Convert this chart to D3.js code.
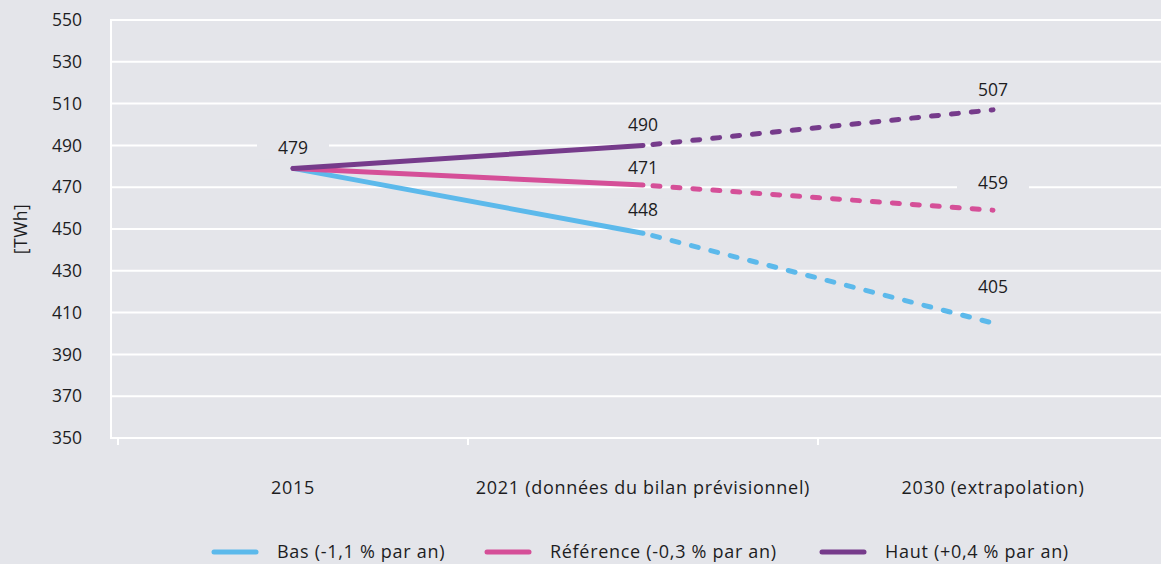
<!DOCTYPE html>
<html>
<head>
<meta charset="utf-8">
<script src="https://cdn.jsdelivr.net/npm/d3@7"></script>
<style>
  html, body { margin: 0; padding: 0; background: #e4e5ea; }
  svg { display: block; font-family: "Open Sans", Roboto, sans-serif; }
</style>
</head>
<body>
<div id="chart"></div>
<script>
// Data
const categories = ['2015', '2021 (données du bilan prévisionnel)', '2030 (extrapolation)'];
const seriesNames = ['Bas (-1,1 % par an)', 'Référence (-0,3 % par an)', 'Haut (+0,4 % par an)'];
const basValues = [479, 448, 405];
const referenceValues = [479, 471, 459];
const hautValues = [479, 490, 507];
const yTicks = [350, 370, 390, 410, 430, 450, 470, 490, 510, 530, 550];
const yTitle = '[TWh]';

const colors = ['#5cb9eb', '#d54f98', '#763b8b'];
const allSeries = [basValues, referenceValues, hautValues];
// vertical lift of each value label above its point, per series, per category
const labelLift = [[0, 23, 36], [0, 17, 27], [21, 21, 20]];

const width = 1161, height = 564;
const margin = { top: 20, right: 0, bottom: 126, left: 111 };
const bg = '#e4e5ea';
const fontSize = 17.5;
const textColor = '#1d1d1f';

const svg = d3.select('#chart').append('svg')
  .attr('width', width).attr('height', height);

svg.append('rect').attr('width', width).attr('height', height).attr('fill', bg);

const y = d3.scaleLinear().domain([350, 550]).range([height - margin.bottom, margin.top]);
const x = d3.scaleBand().domain(categories).range([118, 1168]);
const cx = c => x(c) + x.bandwidth() / 2;

// Grid lines
svg.append('g').selectAll('line').data(yTicks).join('line')
  .attr('x1', margin.left).attr('x2', width)
  .attr('y1', d => y(d)).attr('y2', d => y(d))
  .attr('stroke', '#fff').attr('stroke-width', 2);

// Y axis line
svg.append('line')
  .attr('x1', margin.left).attr('x2', margin.left)
  .attr('y1', y(550) - 1).attr('y2', y(350) + 1)
  .attr('stroke', '#fff').attr('stroke-width', 2);

// X ticks
const xTickPos = categories.map(c => x(c));
svg.append('g').selectAll('line').data(xTickPos).join('line')
  .attr('x1', d => d).attr('x2', d => d)
  .attr('y1', y(350)).attr('y2', y(350) + 7)
  .attr('stroke', '#fff').attr('stroke-width', 2);

// Y tick labels
svg.append('g').selectAll('text').data(yTicks).join('text')
  .attr('x', 82).attr('y', d => y(d)).attr('dy', '0.35em')
  .attr('text-anchor', 'end')
  .attr('font-size', fontSize).attr('fill', textColor)
  .text(d => d);

// Y title
svg.append('text')
  .attr('transform', `translate(27,${(y(550) + y(350)) / 2}) rotate(-90)`)
  .attr('text-anchor', 'middle')
  .attr('font-size', fontSize).attr('fill', textColor)
  .attr('letter-spacing', 0.5)
  .text(yTitle);

// X labels
svg.append('g').selectAll('text').data(categories).join('text')
  .attr('x', d => cx(d)).attr('y', 494)
  .attr('text-anchor', 'middle')
  .attr('font-size', 18).attr('letter-spacing', 0.7).attr('fill', textColor)
  .text(d => d);

// Lines: solid to 2021, dashed to 2030
const line = d3.line().x(d => cx(d.c)).y(d => y(d.v));
allSeries.forEach((vals, i) => {
  const pts = vals.map((v, j) => ({ c: categories[j], v }));
  svg.append('path').datum(pts.slice(0, 2)).attr('d', line)
    .attr('fill', 'none').attr('stroke', colors[i]).attr('stroke-width', 5)
    .attr('stroke-linecap', 'round');
  svg.append('path').datum(pts.slice(1, 3)).attr('d', line)
    .attr('fill', 'none').attr('stroke', colors[i]).attr('stroke-width', 5)
    .attr('stroke-linecap', 'round').attr('stroke-dasharray', '7,13')
    .attr('stroke-dashoffset', -10);
});

// Value labels (with background boxes that hide grid lines)
const labels = [];
allSeries.forEach((vals, i) => {
  vals.forEach((v, j) => {
    if (j === 0 && i < 2) return; // shared 2015 point labelled once
    labels.push({ c: categories[j], v, lift: labelLift[i][j] });
  });
});
const lg = svg.append('g').selectAll('g').data(labels).join('g')
  .attr('transform', d => `translate(${cx(d.c)},${y(d.v) - d.lift})`);
lg.append('rect')
  .attr('x', -36).attr('y', -12).attr('width', 72).attr('height', 24)
  .attr('fill', bg);
lg.append('text')
  .attr('text-anchor', 'middle').attr('dy', '0.35em')
  .attr('font-size', fontSize).attr('fill', textColor)
  .text(d => d.v);

// Legend
const legendX = [212, 485, 820];
const leg = svg.append('g').selectAll('g').data(seriesNames).join('g')
  .attr('transform', (d, i) => `translate(${legendX[i]},552)`);
leg.append('line')
  .attr('x1', 2).attr('x2', 44).attr('y1', 0).attr('y2', 0)
  .attr('stroke', (d, i) => colors[i]).attr('stroke-width', 5)
  .attr('stroke-linecap', 'round');
leg.append('text')
  .attr('x', 65).attr('dy', '0.35em')
  .attr('font-size', 18).attr('letter-spacing', 0.7).attr('fill', textColor)
  .text(d => d);
</script>
</body>
</html>
